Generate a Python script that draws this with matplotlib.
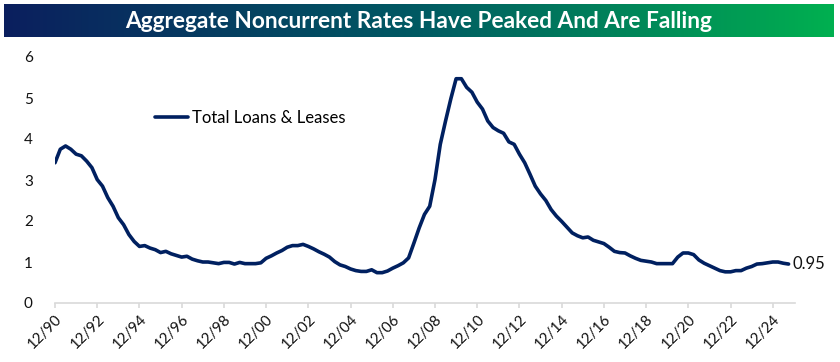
import numpy as np
import matplotlib
matplotlib.use("Agg")
import matplotlib.pyplot as plt
from matplotlib.colors import LinearSegmentedColormap
from matplotlib.transforms import ScaledTranslation

plt.rcParams['font.family'] = ['Lato', 'DejaVu Sans']

title = "Aggregate Noncurrent Rates Have Peaked And Are Falling"
series_name = "Total Loans & Leases"
start_year = 1990
start_quarter = 4
values = [
    3.42, 3.75, 3.83, 3.75, 3.63, 3.59, 3.46, 3.30, 3.01, 2.85,
    2.57, 2.36, 2.08, 1.91, 1.67, 1.50, 1.38, 1.40, 1.34, 1.30,
    1.23, 1.26, 1.20, 1.16, 1.12, 1.14, 1.07, 1.03, 1.00, 1.00,
    0.98, 0.96, 0.99, 0.99, 0.95, 0.99, 0.96, 0.96, 0.96, 0.98,
    1.09, 1.15, 1.22, 1.28, 1.36, 1.40, 1.40, 1.43, 1.38, 1.32,
    1.25, 1.19, 1.12, 1.01, 0.93, 0.89, 0.83, 0.79, 0.77, 0.77,
    0.81, 0.74, 0.74, 0.78, 0.85, 0.91, 0.98, 1.10, 1.46, 1.83,
    2.16, 2.36, 3.01, 3.87, 4.44, 4.98, 5.47, 5.47, 5.26, 5.14,
    4.90, 4.73, 4.44, 4.28, 4.20, 4.14, 3.93, 3.87, 3.63, 3.42,
    3.14, 2.85, 2.66, 2.50, 2.28, 2.12, 1.99, 1.85, 1.71, 1.64,
    1.59, 1.61, 1.53, 1.49, 1.45, 1.36, 1.26, 1.23, 1.22, 1.15,
    1.09, 1.04, 1.02, 1.00, 0.96, 0.96, 0.96, 0.96, 1.12, 1.22,
    1.22, 1.18, 1.05, 0.97, 0.91, 0.85, 0.79, 0.76, 0.76, 0.79,
    0.79, 0.85, 0.89, 0.95, 0.96, 0.98, 1.00, 1.00, 0.97, 0.95,
]
last_label = "0.95"
tick_years = list(range(1990, 2025, 2))
tick_labels = ["12/%02d" % (y % 100) for y in tick_years]
y_ticks = [0, 1, 2, 3, 4, 5, 6]

# x in fractional years (quarter ends)
n = len(values)
x = np.array([start_year + (start_quarter + i) / 4.0 - 1 / 12.0 for i in range(n)])
tick_x = [y + 11 / 12.0 for y in tick_years]

W, H = 840, 362
fig = plt.figure(figsize=(W / 100, H / 100), dpi=100)

# Title banner with gradient
bax = fig.add_axes([4 / W, 1 - 37 / H, 830 / W, 33 / H])
cmap = LinearSegmentedColormap.from_list("ban", ["#0b1f5e", "#005a63", "#00b050"])
grad = np.linspace(0, 1, 512).reshape(1, -1)
bax.imshow(grad, aspect="auto", cmap=cmap, extent=[0, 1, 0, 1])
bax.set_axis_off()
bax.text(0.5, 0.47, title, color="white", fontsize=16.3, fontweight="bold",
         ha="center", va="center", transform=bax.transAxes)

ax = fig.add_axes([55 / W, 1 - 303 / H, 740 / W, 246 / H])
ax.plot(x, values, color="#002060", lw=2.6, solid_capstyle="round",
        solid_joinstyle="round", label=series_name)
ax.set_xlim(1990.917, 2025.97)
ax.set_ylim(0, 6)
ax.set_yticks(y_ticks)
ax.set_yticklabels([str(v) for v in y_ticks])
ax.set_xticks(tick_x)
ax.set_xticklabels(tick_labels, rotation=45, ha="right", va="top",
                   rotation_mode="anchor")
off = ScaledTranslation(7 / 100, -4 / 100, fig.dpi_scale_trans)
for lbl in ax.get_xticklabels():
    lbl.set_transform(lbl.get_transform() + off)
for s in ["top", "right", "left"]:
    ax.spines[s].set_visible(False)
ax.spines["bottom"].set_color("#d9d9d9")
ax.spines["bottom"].set_linewidth(1.2)
ax.tick_params(axis="y", length=0, pad=16, labelsize=11, labelcolor="#111111")
ax.tick_params(axis="x", length=3.5, color="#d9d9d9", width=1.2, pad=3,
               labelsize=10.8, labelcolor="#111111")

ax.annotate(last_label, xy=(x[-1], values[-1]), xytext=(3, 0),
            textcoords="offset points", va="center", ha="left",
            fontsize=12, color="#111111")

leg = ax.legend(loc="center left", bbox_to_anchor=(155 / W, 1 - 118 / H),
                bbox_transform=fig.transFigure, frameon=False,
                fontsize=12, handlelength=2.0, handletextpad=0.2,
                borderpad=0, borderaxespad=0)

fig.savefig("out.png", dpi=100)
